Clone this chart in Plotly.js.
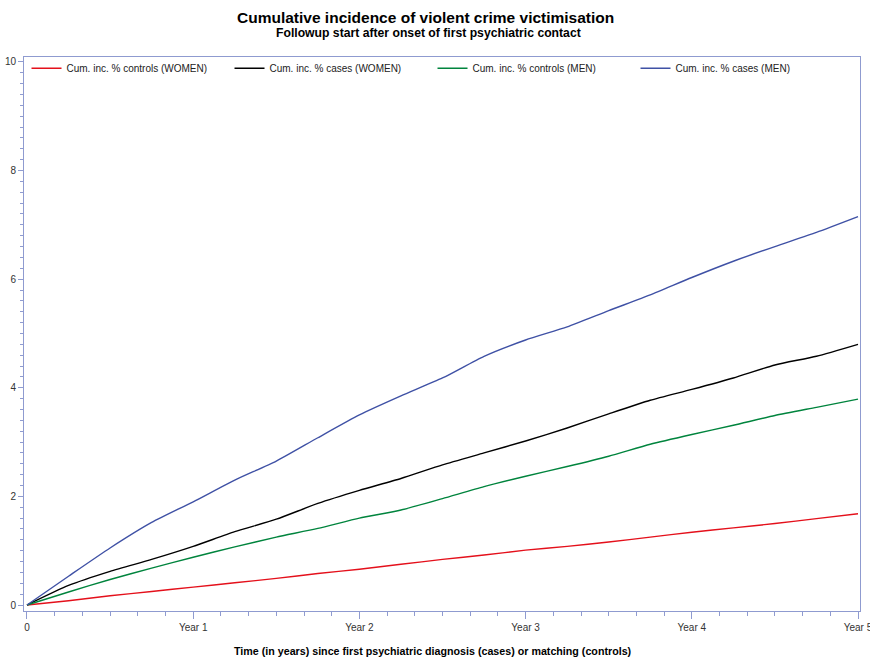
<!DOCTYPE html>
<html>
<head>
<meta charset="utf-8">
<script src="https://cdn.plot.ly/plotly-3.0.1.min.js"></script>
<style>html,body{margin:0;padding:0;background:#fff}#chart{width:870px;height:659px}</style>
</head>
<body>
<div id="chart"></div>
<script>
// Time in years
var years = [0,0.25,0.5,0.75,1,1.25,1.5,1.75,2,2.25,2.5,2.75,3,3.25,3.5,3.75,4,4.25,4.5,4.75,5];
// Cumulative incidence (%)
var controlsWomen = [0,0.08,0.17,0.25,0.33,0.41,0.49,0.58,0.66,0.75,0.84,0.92,1.01,1.08,1.16,1.25,1.34,1.42,1.50,1.59,1.68];
var casesWomen    = [0,0.36,0.62,0.84,1.08,1.35,1.58,1.87,2.11,2.33,2.58,2.80,3.02,3.26,3.52,3.77,3.97,4.18,4.42,4.58,4.80];
var controlsMen   = [0,0.24,0.47,0.68,0.88,1.07,1.25,1.41,1.60,1.75,1.96,2.18,2.37,2.55,2.74,2.96,3.14,3.31,3.49,3.64,3.79];
var casesMen      = [0,0.53,1.05,1.52,1.90,2.30,2.65,3.08,3.50,3.85,4.18,4.58,4.88,5.12,5.42,5.71,6.03,6.33,6.60,6.86,7.15];

var seriesNames = ['Cum. inc. % controls (WOMEN)','Cum. inc. % cases (WOMEN)','Cum. inc. % controls (MEN)','Cum. inc. % cases (MEN)'];
var xTickVals = [0,1,2,3,4,5];
var xTickText = ['0','Year 1','Year 2','Year 3','Year 4','Year 5'];
var yTickVals = [0,2,4,6,8,10];

var colors = ['#e4101b','#000000','#00843d','#3f51a5'];
var ys = [controlsWomen, casesWomen, controlsMen, casesMen];
var traces = ys.map(function(y,i){
  return {x: years, y: y, type:'scatter', mode:'lines', name: seriesNames[i],
          line:{color:colors[i], width:1.4, shape:'spline', smoothing:0.6}};
});

var axisColor = '#8f9bd0';
var layout = {
  width:870, height:659,
  margin:{l:24, r:10, t:57, b:48, pad:0},
  paper_bgcolor:'#fff', plot_bgcolor:'#fff',
  font:{family:'Liberation Sans, Arial, sans-serif', size:11, color:'#333'},
  showlegend:true,
  legend:{orientation:'h', x:0.003, y:1.006, xanchor:'left', yanchor:'top',
          entrywidth:158, entrywidthmode:'pixels', font:{size:10, color:'#222'},
          bgcolor:'rgba(0,0,0,0)', itemwidth:30, tracegroupgap:0},
  xaxis:{range:[-0.018,5.012], tickvals:xTickVals, ticktext:xTickText,
         showgrid:false, zeroline:false, showline:true, linecolor:axisColor, linewidth:1,
         mirror:true, ticks:'outside', ticklen:7, tickcolor:axisColor,
         tickfont:{size:10, color:'#333'}, ticklabeloverflow:'allow',
         minor:{dtick:1/6, tick0:0, ticks:'outside', ticklen:4, tickcolor:axisColor, showgrid:false}},
  yaxis:{range:[-0.11,10.09], tickvals:yTickVals,
         showgrid:false, zeroline:false, showline:true, linecolor:axisColor, linewidth:1,
         mirror:true, ticks:'outside', ticklen:5, tickcolor:axisColor,
         tickfont:{size:10, color:'#333'},
         minor:{dtick:0.2, tick0:0, ticks:'outside', ticklen:3, tickcolor:axisColor, showgrid:false}},
  annotations:[
    {text:'<b>Cumulative incidence of violent crime victimisation</b>', xref:'paper', yref:'paper',
     x:0.480, y:1, xanchor:'center', yanchor:'bottom', yshift:29, showarrow:false,
     font:{size:15.5, color:'#000'}},
    {text:'<b>Followup start after onset of first psychiatric contact</b>', xref:'paper', yref:'paper',
     x:0.484, y:1, xanchor:'center', yanchor:'bottom', yshift:15, showarrow:false,
     font:{size:12.2, color:'#000'}},
    {text:'<b>Time (in years) since first psychiatric diagnosis (cases) or matching (controls)</b>',
     xref:'paper', yref:'paper', x:0.489, y:0, xanchor:'center', yanchor:'top', yshift:-32,
     showarrow:false, font:{size:10.7, color:'#000'}}
  ]
};
Plotly.newPlot('chart', traces, layout, {displayModeBar:false, staticPlot:true});
</script>
</body>
</html>
